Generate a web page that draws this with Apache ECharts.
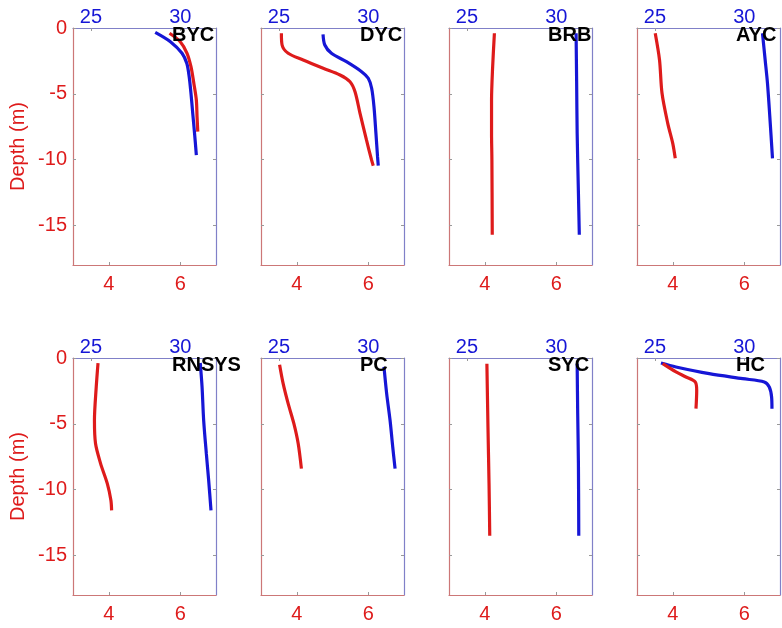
<!DOCTYPE html>
<html>
<head>
<meta charset="utf-8">
<script src="https://cdn.jsdelivr.net/npm/echarts@6/dist/echarts.min.js"></script>
<style>
  html, body { margin: 0; padding: 0; background: #fff; }
  #chart { width: 782px; height: 628px; }
</style>
</head>
<body>
<div id="chart"></div>
<script>
// Station names, in panel order (two rows of four)
const stations = ['BYC', 'DYC', 'BRB', 'AYC', 'RNSYS', 'PC', 'SYC', 'HC'];

// Tick values for each axis
const depthTicks = [0, -5, -10, -15];
const tempTicks = [4, 6];
const salTicks = [25, 30];

// Temperature profiles: [temperature, depth (m)]
const bycTemp = [[5.70, -0.4], [6.00, -1.04], [6.19, -1.92], [6.30, -2.94], [6.38, -4.2], [6.45, -5.47], [6.47, -6.73], [6.49, -7.87]];
const dycTemp = [[3.57, -0.4], [3.59, -1.29], [3.76, -1.92], [4.18, -2.43], [4.74, -3.06], [5.21, -3.57], [5.49, -4.08], [5.63, -4.84], [5.77, -6.48], [5.95, -8.5], [6.09, -10.0], [6.14, -10.46]];
const brbTemp = [[4.27, -0.4], [4.22, -3.0], [4.19, -5.5], [4.19, -8.0], [4.20, -10.0], [4.21, -15.7]];
const aycTemp = [[3.51, -0.4], [3.63, -2.43], [3.70, -4.96], [3.86, -7.24], [4.00, -8.76], [4.07, -9.9]];
const rnsysTemp = [[3.70, -0.38], [3.65, -2.2], [3.60, -4.73], [3.63, -6.5], [3.77, -8.0], [3.96, -9.54], [4.06, -10.8], [4.08, -11.57]];
const pcTemp = [[3.52, -0.51], [3.62, -1.95], [3.76, -3.47], [3.92, -4.99], [4.04, -6.5], [4.13, -8.4]];
const sycTemp = [[4.06, -0.43], [4.09, -5.24], [4.12, -9.54], [4.14, -13.5]];
const hcTemp = [[3.72, -0.43], [4.09, -1.06], [4.37, -1.44], [4.63, -1.82], [4.67, -2.46], [4.65, -3.85]];

// Salinity profiles: [salinity, depth (m)]
const bycSal = [[28.6, -0.33], [29.45, -1.04], [30.1, -1.92], [30.37, -2.7], [30.5, -3.7], [30.6, -4.96], [30.7, -6.5], [30.8, -8.0], [30.9, -9.65]];
const dycSal = [[27.47, -0.48], [27.57, -1.29], [27.94, -1.92], [28.78, -2.56], [29.63, -3.32], [30.0, -3.82], [30.19, -4.58], [30.32, -5.97], [30.43, -8.0], [30.52, -9.77], [30.56, -10.46]];
const brbSal = [[31.11, -0.4], [31.14, -4.0], [31.17, -8.0], [31.24, -12.5], [31.29, -15.7]];
const aycSal = [[31.02, -0.4], [31.17, -2.43], [31.3, -4.2], [31.43, -6.73], [31.58, -9.9]];
const rnsysSal = [[31.12, -0.38], [31.22, -2.2], [31.31, -4.73], [31.46, -7.27], [31.59, -9.29], [31.72, -11.57]];
const pcSal = [[30.88, -0.68], [31.03, -2.71], [31.22, -4.73], [31.37, -6.76], [31.5, -8.4]];
const sycSal = [[31.17, -0.43], [31.2, -4.2], [31.24, -8.0], [31.26, -13.5]];
const hcSal = [[25.34, -0.38], [26.18, -0.68], [28.04, -1.19], [29.91, -1.57], [31.12, -1.82], [31.4, -2.2], [31.53, -2.96], [31.55, -3.85]];

const tempProfiles = [bycTemp, dycTemp, brbTemp, aycTemp, rnsysTemp, pcTemp, sycTemp, hcTemp];
const salProfiles = [bycSal, dycSal, brbSal, aycSal, rnsysSal, pcSal, sycSal, hcSal];

const RED = '#de1b1b';
const BLUE = '#1616d6';
const RED_AXIS = '#cc7777';
const BLUE_AXIS = '#8080c8';
const FONT = 'Liberation Sans, Arial, sans-serif';

const colLeft = [73, 261, 449, 637];
const rowTop = [28, 358];
const W = 143, H = 237;

const grid = [], xAxis = [], yAxis = [], series = [], title = [];

stations.forEach((name, i) => {
  const row = Math.floor(i / 4), col = i % 4;
  const left = colLeft[col], top = rowTop[row];
  grid.push({ left: left, top: top, width: W, height: H, containLabel: false });

  // bottom: temperature
  xAxis.push({
    gridIndex: i, type: 'value', position: 'bottom', min: 3, max: 7,
    splitLine: { show: false },
    axisLine: { show: true, onZero: false, lineStyle: { color: RED_AXIS, width: 1.2 } },
    axisTick: { show: true, inside: true, length: 3, customValues: tempTicks, lineStyle: { color: '#999' } },
    axisLabel: { show: true, customValues: tempTicks, color: RED, fontSize: 20, fontFamily: FONT, margin: 9 }
  });
  // top: salinity
  xAxis.push({
    gridIndex: i, type: 'value', position: 'top', min: 24, max: 32,
    splitLine: { show: false },
    axisLine: { show: true, onZero: false, lineStyle: { color: BLUE_AXIS, width: 1.2 } },
    axisTick: { show: true, inside: true, length: 3, customValues: salTicks, lineStyle: { color: '#999' } },
    axisLabel: { show: true, customValues: salTicks, color: BLUE, fontSize: 20, fontFamily: FONT, margin: 1 }
  });
  // left: depth
  yAxis.push({
    gridIndex: i, type: 'value', position: 'left', min: -18, max: 0,
    name: col === 0 ? 'Depth (m)' : '',
    nameLocation: 'middle', nameGap: 45,
    nameTextStyle: { color: RED, fontSize: 20, fontFamily: FONT },
    splitLine: { show: false },
    axisLine: { show: true, onZero: false, lineStyle: { color: RED_AXIS, width: 1.2 } },
    axisTick: { show: true, inside: true, length: 3, customValues: depthTicks, lineStyle: { color: '#999' } },
    axisLabel: { show: col === 0, customValues: depthTicks, color: RED, fontSize: 20, fontFamily: FONT, margin: 6 }
  });
  // right: depth frame
  yAxis.push({
    gridIndex: i, type: 'value', position: 'right', min: -18, max: 0,
    splitLine: { show: false },
    axisLine: { show: true, onZero: false, lineStyle: { color: BLUE_AXIS, width: 1.2 } },
    axisTick: { show: true, inside: true, length: 3, customValues: depthTicks, lineStyle: { color: '#999' } },
    axisLabel: { show: false }
  });

  series.push({
    type: 'line', name: name + ' T', xAxisIndex: 2 * i, yAxisIndex: 2 * i,
    data: tempProfiles[i], showSymbol: false, smooth: 0.3,
    lineStyle: { color: RED, width: 3.2 }, z: 3
  });
  series.push({
    type: 'line', name: name + ' S', xAxisIndex: 2 * i + 1, yAxisIndex: 2 * i,
    data: salProfiles[i], showSymbol: false, smooth: 0.3,
    lineStyle: { color: BLUE, width: 3.2 }, z: 2
  });

  title.push({
    text: name, left: left + 99, top: top - 3, padding: 0,
    textStyle: { color: '#000', fontSize: 20, fontWeight: 'bold', fontFamily: FONT }
  });
});

const chart = echarts.init(document.getElementById('chart'), null, { renderer: 'canvas' });
chart.setOption({
  animation: false,
  backgroundColor: '#fff',
  title: title,
  grid: grid,
  xAxis: xAxis,
  yAxis: yAxis,
  series: series
});
</script>
</body>
</html>
